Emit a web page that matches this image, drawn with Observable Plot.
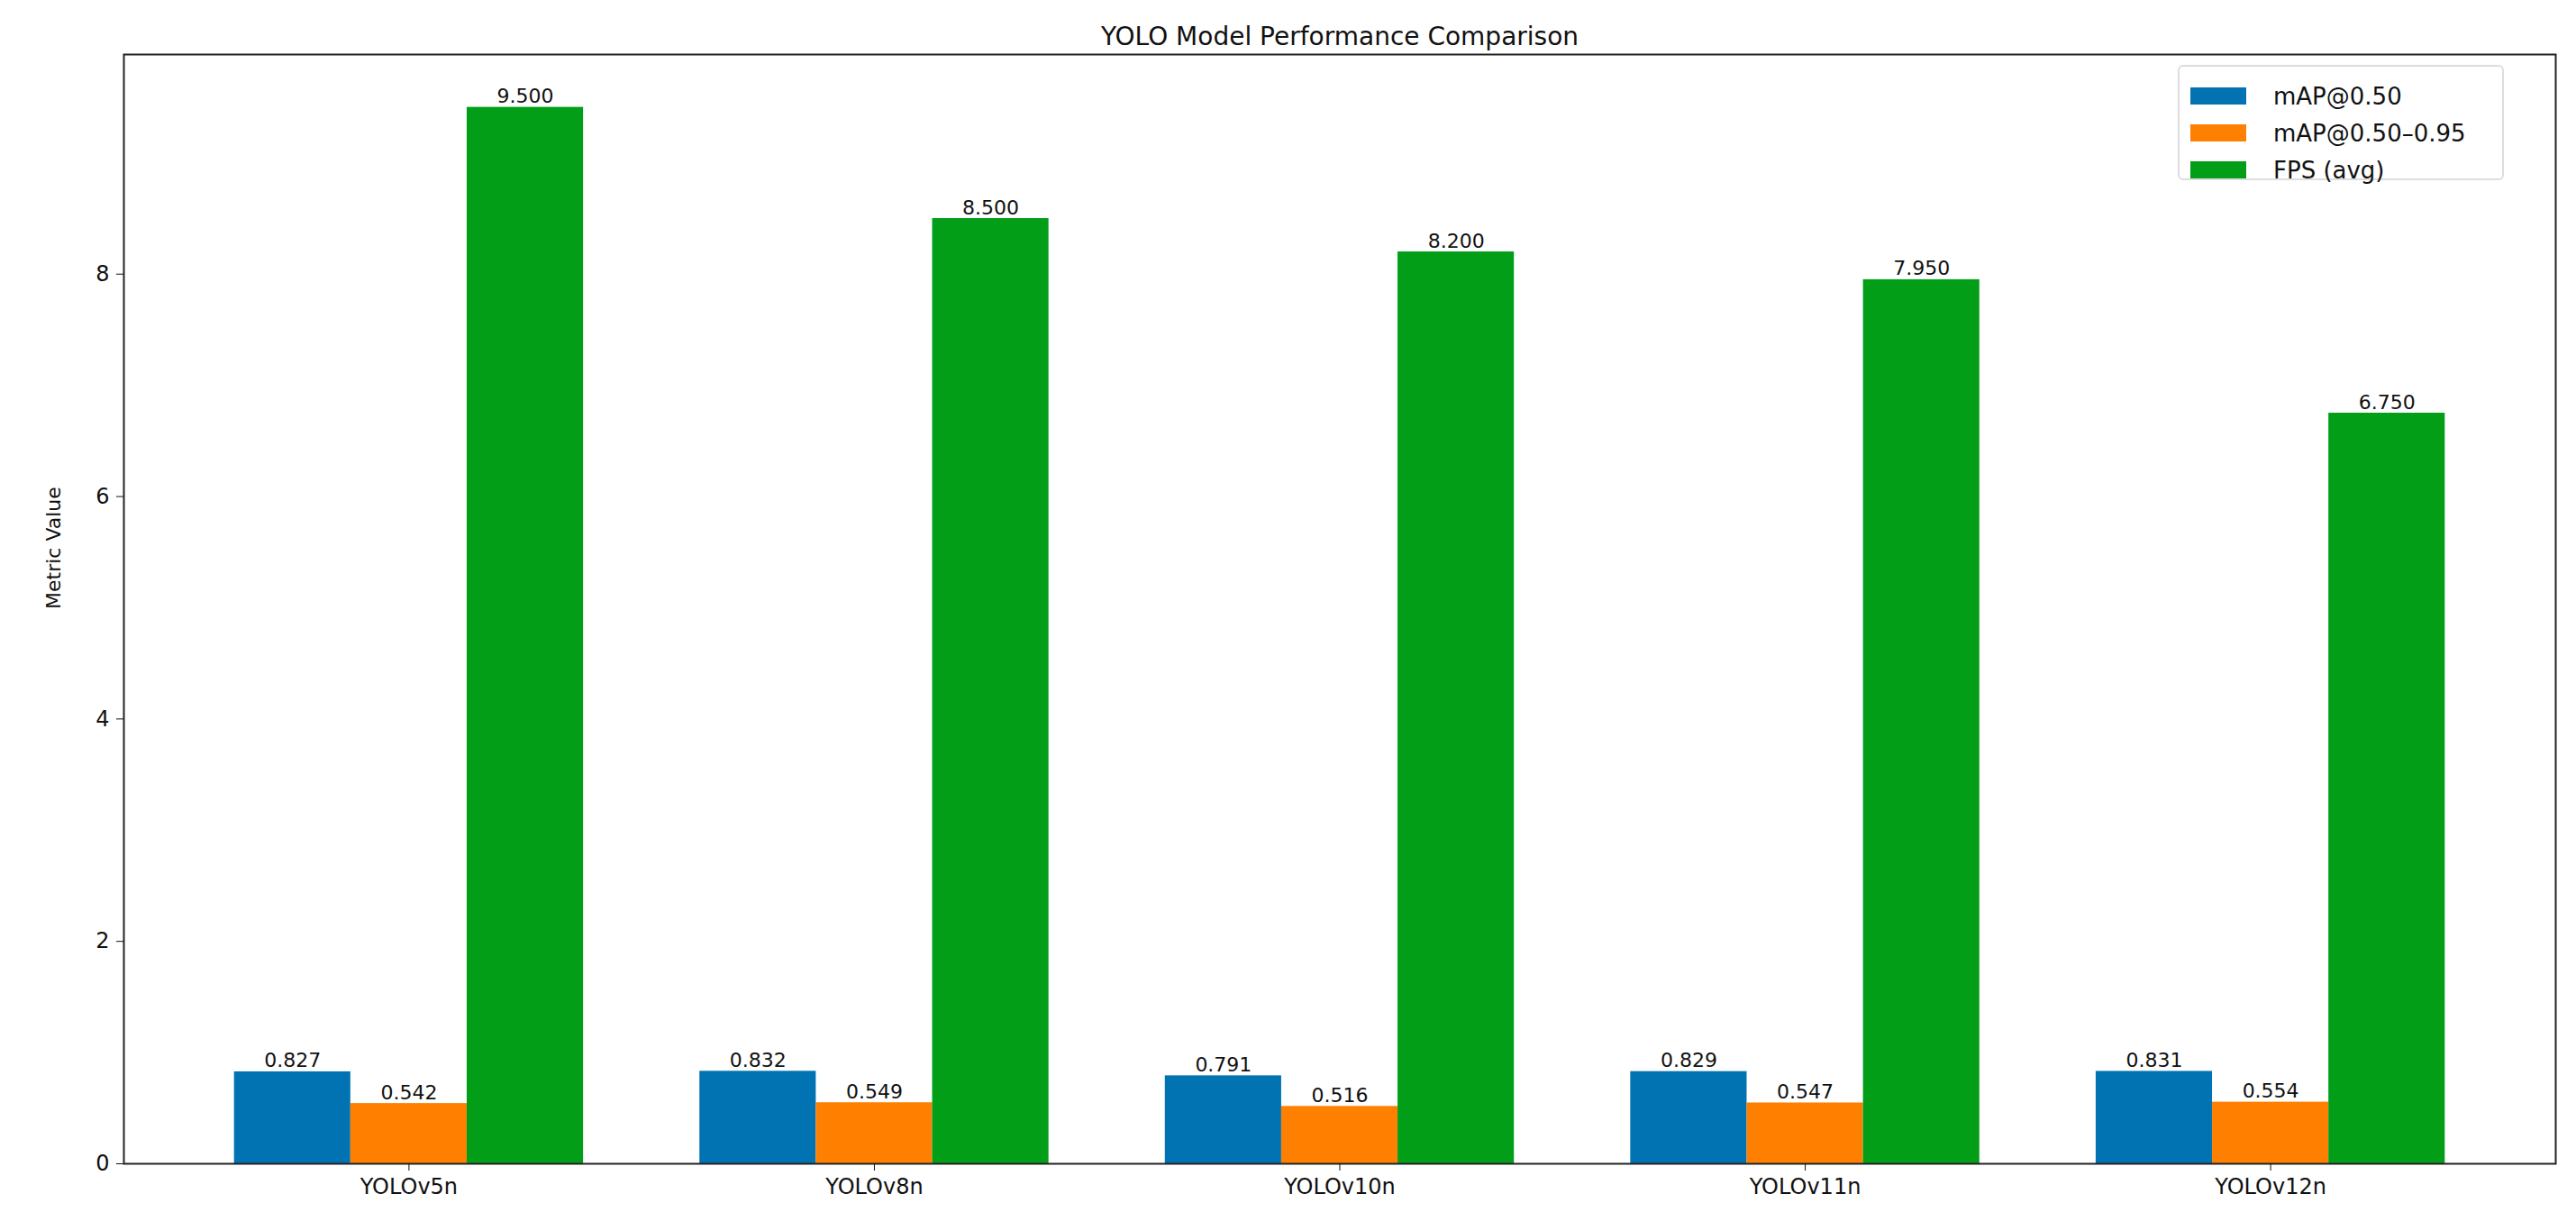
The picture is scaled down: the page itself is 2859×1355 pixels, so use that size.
<!DOCTYPE html>
<html><head><meta charset="utf-8">
<script src="https://cdn.jsdelivr.net/npm/d3@7"></script>
<script src="https://cdn.jsdelivr.net/npm/@observablehq/plot@0.6"></script>
<style>
body{margin:0;background:#fff;font-family:"DejaVu Sans",sans-serif}
#wrap{position:relative;width:2859px;height:1355px}
#legend{position:absolute;left:2417px;top:72px;width:362px;height:128px;border:2px solid #ddd;border-radius:6px;background:rgba(255,255,255,0.9);box-sizing:border-box;padding:12px 0 0 12px}
.row{display:flex;align-items:center;height:41px;font-size:26px;color:#111}
.sw{width:62px;height:19px;margin-right:30px}
</style></head><body>
<div id="wrap"><div id="chart"></div><div id="legend"></div></div>
<script>
const models = ["YOLOv5n","YOLOv8n","YOLOv10n","YOLOv11n","YOLOv12n"];
const series = ["mAP@0.50","mAP@0.50–0.95","FPS (avg)"];
const map50 = [0.827,0.832,0.791,0.829,0.831];
const map5095 = [0.542,0.549,0.516,0.547,0.554];
const fps = [9.5,8.5,8.2,7.95,6.75];
const colors = ["#0173b2","#ff7f00","#029e18"];
const yTicks = [0,2,4,6,8];

const vals = [map50, map5095, fps];
const data = [];
models.forEach((m,i)=>series.forEach((s,j)=>data.push({i, j, s, v: vals[j][i]})));
const W = 0.25;
const x1 = d => d.i + (d.j-1)*W - W/2;
const x2 = d => d.i + (d.j-1)*W + W/2;
const xc = d => d.i + (d.j-1)*W;

const plot = Plot.plot({
  width: 2859, height: 1355,
  marginLeft: 137, marginRight: 23, marginTop: 60, marginBottom: 64,
  style: {fontFamily: "DejaVu Sans, sans-serif", fontSize: "22px", color: "#111"},
  x: {domain: [-0.6125, 4.6125], ticks: models.map((_,i)=>i), tickFormat: i => models[i], tickSize: 8, tickPadding: 8, label: null},
  y: {domain: [0, 9.975], ticks: yTicks, tickSize: 8, tickPadding: 8, label: null},
  color: {domain: series, range: colors},
  marks: [
    Plot.rectY(data, {x1, x2, y1: 0, y2: "v", fill: "s"}),
    Plot.text(data, {x: xc, y: "v", text: d => d.v.toFixed(3), dy: -12, fontSize: 22, fill: "#111"}),
    Plot.frame({stroke: "#222", strokeWidth: 2}),
    Plot.axisX({ticks: models.map((_,i)=>i), tickFormat: i => models[i], tickSize: 8, tickPadding: 8, fontSize: 24, label: null}),
    Plot.axisY({ticks: yTicks, tickSize: 8, tickPadding: 8, fontSize: 24, label: null}),
    Plot.text(["YOLO Model Performance Comparison"], {frameAnchor: "top", dy: -30, fontSize: 28, fill: "#111"}),
    Plot.text(["Metric Value"], {frameAnchor: "left", dx: -78, rotate: -90, fontSize: 22, fill: "#111"})
  ]
});
document.getElementById("chart").appendChild(plot);
const lg = document.getElementById("legend");
series.forEach((s,j)=>{
  const r = document.createElement("div"); r.className="row";
  r.innerHTML = `<div class="sw" style="background:${colors[j]}"></div><span>${s}</span>`;
  lg.appendChild(r);
});
</script>
</body></html>
